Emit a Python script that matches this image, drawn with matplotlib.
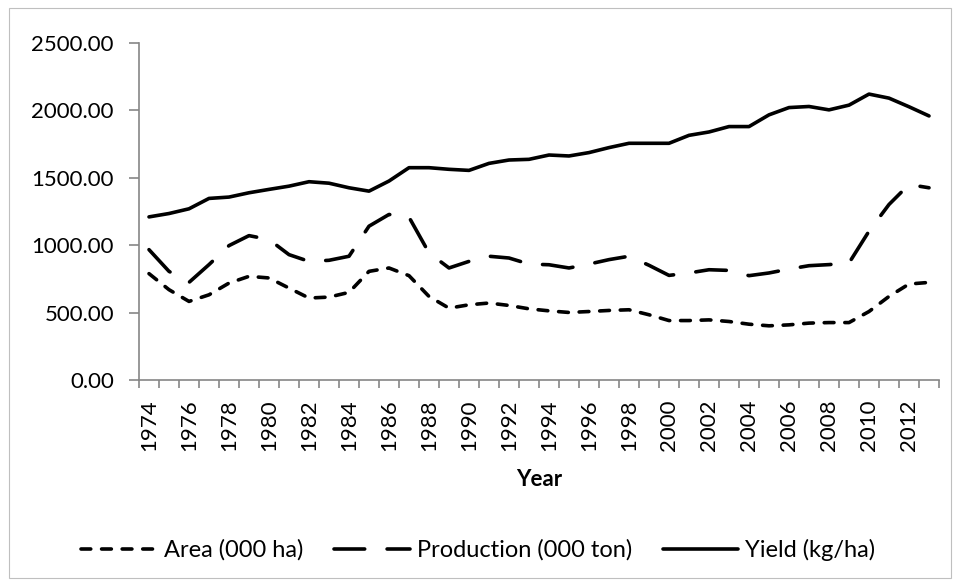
import matplotlib
matplotlib.use('Agg')
import matplotlib.pyplot as plt
from matplotlib.patches import Rectangle

plt.rcParams['font.family'] = ['Lato', 'DejaVu Sans']

years = list(range(1974, 2014))

area = [789, 670, 583, 632, 719, 769, 757, 682, 608, 615,
        650, 806, 831, 774, 620, 533, 558, 571, 553, 528,
        513, 501, 508, 516, 521, 484, 441, 441, 446, 434,
        414, 402, 409, 422, 426, 426, 508, 620, 712, 724]

production = [967, 806, 724, 856, 997, 1071, 1042, 930, 880, 888,
              918, 1141, 1228, 1208, 943, 831, 880, 918, 905, 860,
              855, 831, 860, 893, 918, 851, 776, 794, 818, 813,
              774, 794, 823, 848, 856, 868, 1104, 1302, 1450, 1426]

yield_ = [1210, 1235, 1270, 1347, 1357, 1389, 1414, 1438, 1471, 1460,
          1426, 1401, 1476, 1575, 1575, 1563, 1555, 1607, 1632, 1637,
          1669, 1662, 1687, 1724, 1756, 1756, 1756, 1815, 1840, 1880,
          1880, 1967, 2021, 2029, 2004, 2039, 2121, 2091, 2027, 1959]

series_names = ['Area (000 ha)', 'Production (000 ton)', 'Yield (kg/ha)']
y_ticks = [0, 500, 1000, 1500, 2000, 2500]

W, H = 957, 581
fig = plt.figure(figsize=(W / 100, H / 100), dpi=100)
fig.patches.append(Rectangle((9 / W, 3 / H), 942 / W, 570 / H,
                             transform=fig.transFigure, fill=False,
                             edgecolor='#bfbfbf', linewidth=0.8))

ax = fig.add_axes([139 / W, 1 - 380 / H, 800 / W, 337 / H])

x = list(range(len(years)))
lw = 2.6
ax.plot(x, area, color='black', lw=lw, linestyle=(0, (2.7, 3.0)),
        dash_capstyle='round', solid_capstyle='round', label=series_names[0])
ax.plot(x, production, color='black', lw=lw, linestyle=(0, (8.5, 6.2)),
        dash_capstyle='round', solid_capstyle='round', label=series_names[1])
ax.plot(x, yield_, color='black', lw=lw, solid_capstyle='round',
        solid_joinstyle='round', label=series_names[2])

ax.set_xlim(-0.5, len(years) - 0.5)
ax.set_ylim(0, 2500)

axis_col = '#868686'
for s in ['top', 'right']:
    ax.spines[s].set_visible(False)
for s in ['left', 'bottom']:
    ax.spines[s].set_color(axis_col)
    ax.spines[s].set_linewidth(1.2)

ax.set_yticks(y_ticks)
ax.set_yticklabels(['%.2f' % v for v in y_ticks])
ax.tick_params(axis='y', length=7, width=1.2, color=axis_col,
               labelsize=16, pad=11)

# tick marks between categories, labels on every other year
ax.set_xticks([i - 0.5 for i in range(len(years) + 1)], minor=True)
ax.set_xticks(x[::2])
ax.set_xticklabels([str(y) for y in years[::2]], rotation=90)
ax.tick_params(axis='x', which='major', length=0, labelsize=16, pad=14)
ax.tick_params(axis='x', which='minor', length=6, width=1.2,
               color=axis_col, direction='out')

ax.set_xlabel('Year', fontsize=16, fontweight='bold', labelpad=13)

ax.legend(loc='center', bbox_to_anchor=(0.5, 1 - 550 / H),
          bbox_transform=fig.transFigure, ncol=3, frameon=False,
          fontsize=17, handlelength=3.2, handletextpad=0.3,
          columnspacing=1.3)

plt.savefig('out.png', dpi=100)
